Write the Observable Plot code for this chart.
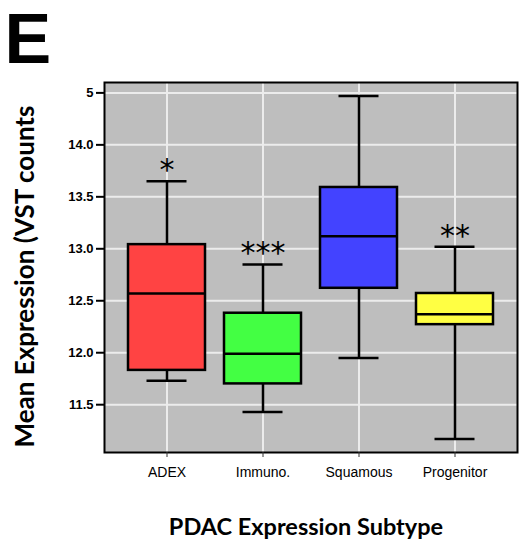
<!DOCTYPE html>
<html>
<head>
<meta charset="utf-8">
<script src="https://cdn.jsdelivr.net/npm/d3@7"></script>
<script src="https://cdn.jsdelivr.net/npm/@observablehq/plot@0.6"></script>
<style>
  html, body { margin: 0; padding: 0; background: #fff; }
</style>
</head>
<body>
<div id="chart"></div>
<script>
const categories = ["ADEX", "Immuno.", "Squamous", "Progenitor"];
const lowerWhisker = [11.73, 11.43, 11.95, 11.17];
const q1 = [11.83, 11.70, 12.62, 12.27];
const median = [12.57, 11.99, 13.12, 12.37];
const q3 = [13.04, 12.38, 13.59, 12.57];
const upperWhisker = [13.65, 12.85, 14.47, 13.02];
const significance = ["*", "***", "", "**"];
const boxColors = ["#ff4343", "#43ff43", "#4343ff", "#ffff43"];
const yTicks = [11.5, 12.0, 12.5, 13.0, 13.5, 14.0, 14.5];
const yTickLabels = ["11.5", "12.0", "12.5", "13.0", "13.5", "14.0", "5"];
const panelLabel = "E";
const yTitle = "Mean Expression (VST counts";
const xTitle = "PDAC Expression Subtype";

const data = categories.map((c, i) => ({
  cat: c, lo: lowerWhisker[i], q1: q1[i], med: median[i], q3: q3[i], hi: upperWhisker[i],
  sig: significance[i], color: boxColors[i]
}));

const titleFont = "Lato, 'Open Sans', sans-serif";

const chart = Plot.plot({
  width: 519,
  height: 542,
  marginTop: 82,
  marginLeft: 104,
  marginRight: 2,
  marginBottom: 90,
  style: { background: "#ffffff", fontFamily: "'Liberation Sans', Arial, sans-serif", color: "#000" },
  x: { domain: categories, paddingInner: 0.2, paddingOuter: 0.25, label: null },
  y: { domain: [11.04, 14.6], label: null },
  marks: [
    Plot.frame({ fill: "#bebebe", stroke: null }),
    Plot.gridY(yTicks, { stroke: "#ececec", strokeOpacity: 1, strokeWidth: 2 }),
    Plot.gridX(categories, { stroke: "#ececec", strokeOpacity: 1, strokeWidth: 2 }),
    Plot.ruleX(data, { x: "cat", y1: "q3", y2: "hi", stroke: "#000", strokeWidth: 2.5 }),
    Plot.ruleX(data, { x: "cat", y1: "lo", y2: "q1", stroke: "#000", strokeWidth: 2.5 }),
    Plot.tickY(data, { x: "cat", y: "hi", stroke: "#000", strokeWidth: 2.5, insetLeft: 18.5, insetRight: 18.5 }),
    Plot.tickY(data, { x: "cat", y: "lo", stroke: "#000", strokeWidth: 2.5, insetLeft: 18.5, insetRight: 18.5 }),
    Plot.barY(data, { x: "cat", y1: "q1", y2: "q3", fill: d => d.color, stroke: "#000", strokeWidth: 2.5 }),
    Plot.tickY(data, { x: "cat", y: "med", stroke: "#000", strokeWidth: 2.5 }),
    Plot.text(data, { x: "cat", y: "hi", text: "sig", dy: -1, fontSize: 30, lineAnchor: "bottom", fill: "#000", fontFamily: "'DejaVu Sans', sans-serif", letterSpacing: "4px" }),
    Plot.frame({ stroke: "#000", strokeWidth: 2 }),
    Plot.axisY(yTicks, { tickFormat: d => yTickLabels[yTicks.indexOf(d)], tickSize: 8, tickPadding: 3, fontSize: 13, fontWeight: "bold", strokeWidth: 2, label: null }),
    Plot.axisX({ tickSize: 5, tickPadding: 10, fontSize: 14, stroke: "#333", label: null }),
    Plot.text([yTitle], { frameAnchor: "left", textAnchor: "middle", lineAnchor: "middle", dx: -79, dy: 9, rotate: -90, fontSize: 26, fontWeight: "bold", fontFamily: titleFont, fill: "#000" }),
    Plot.text([xTitle], { frameAnchor: "bottom", textAnchor: "middle", lineAnchor: "middle", dx: -5, dy: 75, fontSize: 23.5, fontWeight: "bold", fontFamily: titleFont, fill: "#000" }),
    Plot.text([panelLabel], { frameAnchor: "top-left", textAnchor: "start", lineAnchor: "middle", dx: -100, dy: -41.5, fontSize: 70, fontWeight: "bold", fontFamily: "'Liberation Sans', Arial, sans-serif", fill: "#000" })
  ]
});
document.getElementById("chart").appendChild(chart);
</script>
</body>
</html>
